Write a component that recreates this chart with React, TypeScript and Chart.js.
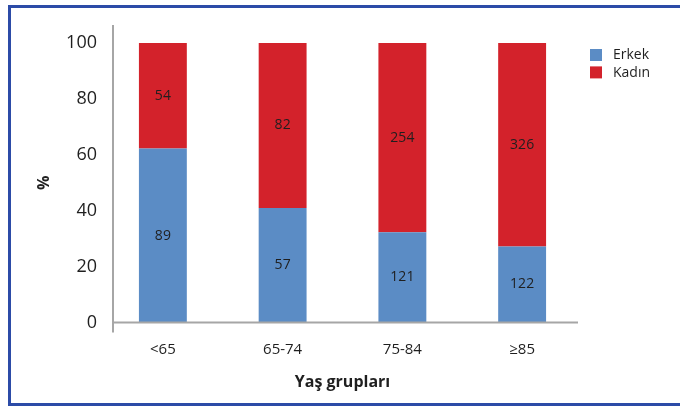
import React, { useEffect, useRef } from "react";
import { Chart, registerables } from "chart.js";

Chart.register(...registerables);

const categories = ["<65", "65-74", "75-84", "≥85"];
const erkekCounts = [89, 57, 121, 122];
const kadinCounts = [54, 82, 254, 326];
const seriesNames = ["Erkek", "Kadın"];
const yTicks = [0, 20, 40, 60, 80, 100];

const BLUE = "#5B8CC5";
const RED = "#D3222B";
const TEXT = "#1f1f1f";
const AXIS = "#a6a6a6";
const FONT = "'Open Sans', 'DejaVu Sans', sans-serif";

const totals = categories.map((_, i) => erkekCounts[i] + kadinCounts[i]);
const erkekPct = erkekCounts.map((v, i) => (v / totals[i]) * 100);
const kadinPct = kadinCounts.map((v, i) => (v / totals[i]) * 100);

const axisLinesPlugin = {
  id: "axisLines",
  afterDatasetsDraw(chart: any) {
    const { ctx, chartArea } = chart;
    const ax = chartArea.left + 10;
    ctx.save();
    ctx.strokeStyle = AXIS;
    ctx.lineWidth = 2;
    ctx.beginPath();
    ctx.moveTo(ax, chartArea.top - 18);
    ctx.lineTo(ax, chartArea.bottom + 10);
    ctx.moveTo(ax, chartArea.bottom);
    ctx.lineTo(chartArea.right - 4, chartArea.bottom);
    ctx.stroke();
    ctx.restore();
  },
};

const countLabelsPlugin = {
  id: "countLabels",
  afterDatasetsDraw(chart: any) {
    const { ctx } = chart;
    const counts = [erkekCounts, kadinCounts];
    ctx.save();
    ctx.fillStyle = TEXT;
    ctx.font = `14px ${FONT}`;
    ctx.textAlign = "center";
    ctx.textBaseline = "middle";
    chart.data.datasets.forEach((_: any, di: number) => {
      const meta = chart.getDatasetMeta(di);
      meta.data.forEach((el: any, i: number) => {
        const p = el.getCenterPoint();
        ctx.fillText(String(counts[di][i]), p.x, p.y);
      });
    });
    ctx.restore();
  },
};

const legendPlugin = {
  id: "customLegend",
  afterDraw(chart: any) {
    const { ctx, chartArea } = chart;
    const x = chartArea.right + 8;
    let y = chartArea.top + 6;
    ctx.save();
    ctx.font = `14px ${FONT}`;
    ctx.textAlign = "left";
    ctx.textBaseline = "middle";
    chart.data.datasets.forEach((ds: any) => {
      ctx.fillStyle = ds.backgroundColor;
      ctx.fillRect(x, y, 12, 12);
      ctx.fillStyle = TEXT;
      ctx.fillText(ds.label, x + 23, y + 6.5);
      y += 17.4;
    });
    ctx.restore();
  },
};

export default function App() {
  const canvasRef = useRef<HTMLCanvasElement | null>(null);

  useEffect(() => {
    if (!canvasRef.current) return;
    const chart = new Chart(canvasRef.current, {
      type: "bar",
      data: {
        labels: categories,
        datasets: [
          {
            label: seriesNames[0],
            data: erkekPct,
            backgroundColor: BLUE,
            barPercentage: 0.4,
            categoryPercentage: 1,
          },
          {
            label: seriesNames[1],
            data: kadinPct,
            backgroundColor: RED,
            barPercentage: 0.4,
            categoryPercentage: 1,
          },
        ],
      },
      options: {
        responsive: false,
        animation: false,
        devicePixelRatio: 1,
        layout: { padding: { top: 43, right: 98, left: 0, bottom: 0 } },
        plugins: {
          legend: { display: false },
          tooltip: { enabled: false },
        },
        scales: {
          x: {
            stacked: true,
            grid: { display: false, drawTicks: false },
            border: { display: false },
            ticks: {
              color: TEXT,
              font: { family: FONT, size: 15 },
              padding: 18,
              maxRotation: 0,
            },
            title: {
              display: true,
              text: "Yaş grupları",
              color: TEXT,
              font: { family: FONT, size: 16, weight: "bold" },
              padding: { top: 0, bottom: 14 },
            },
            afterFit(scale: any) {
              scale.height = 83.5;
            },
          },
          y: {
            stacked: true,
            min: 0,
            max: 100,
            grid: { display: false, drawTicks: false },
            border: { display: false },
            afterBuildTicks(scale: any) {
              scale.ticks = yTicks.map((v) => ({ value: v }));
            },
            ticks: {
              color: TEXT,
              font: { family: FONT, size: 18 },
              padding: 6,
            },
            title: {
              display: true,
              text: "%",
              color: TEXT,
              font: { family: FONT, size: 16, weight: "bold" },
              padding: { top: 35, bottom: 0 },
            },
            afterFit(scale: any) {
              scale.width = 103;
            },
          },
        },
      },
      plugins: [axisLinesPlugin, countLabelsPlugin, legendPlugin],
    });
    return () => chart.destroy();
  }, []);

  return (
    <div
      style={{
        position: "fixed",
        left: 0,
        top: 0,
        width: 680,
        height: 406,
        overflow: "hidden",
        background: "#fff",
      }}
    >
      <div
        style={{
          position: "absolute",
          left: 8,
          top: 5,
          width: 720,
          height: 401,
          border: "3px solid #2c4ba7",
          boxSizing: "border-box",
        }}
      />
      <canvas
        ref={canvasRef}
        width={680}
        height={406}
        style={{ position: "absolute", left: 0, top: 0 }}
      />
    </div>
  );
}
